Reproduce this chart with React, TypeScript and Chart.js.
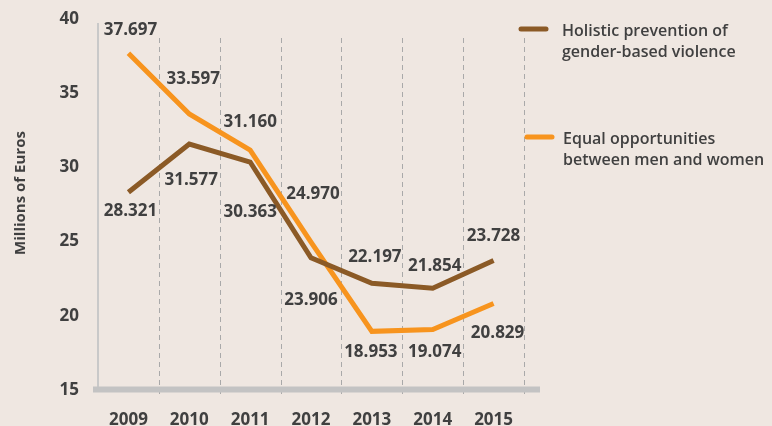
import React, { useEffect, useRef } from 'react';
import { Chart, registerables } from 'chart.js';

Chart.register(...registerables);

const years = ['2009', '2010', '2011', '2012', '2013', '2014', '2015'];
const holistic = [28.321, 31.577, 30.363, 23.906, 22.197, 21.854, 23.728];
const equalOpp = [37.697, 33.597, 31.16, 24.97, 18.953, 19.074, 20.829];
const yTicks = [15, 20, 25, 30, 35, 40];
const legendHolistic = ['Holistic prevention of', 'gender-based violence'];
const legendEqual = ['Equal opportunities', 'between men and women'];
const axisTitle = 'Millions of Euros';

// label offsets (dx, dy) relative to each point
const holisticLabelOffsets = [[2, 19], [2, 36], [0, 50], [0, 42], [3, -26], [2, -22], [0, -24]];
const equalLabelOffsets = [[2, -23], [4, -35], [0, -28], [2, -48], [-1, 21], [2, 23], [4, 30]];

const BROWN = '#8B5A26';
const ORANGE = '#F7941E';
const TEXT = '#404040';
const BG = '#EFE7E1';
const FAMILY = '"Open Sans", "Noto Sans", sans-serif';

const decor = {
  id: 'decor',
  beforeDatasetsDraw(chart: any) {
    const { ctx, chartArea, scales } = chart;
    const x = scales.x;
    ctx.save();
    ctx.strokeStyle = '#c9c9c9';
    ctx.lineWidth = 2;
    ctx.beginPath();
    ctx.moveTo(chartArea.left, chartArea.top + 4);
    ctx.lineTo(chartArea.left, chartArea.bottom);
    ctx.stroke();

    const half = (x.getPixelForValue(1) - x.getPixelForValue(0)) / 2;
    ctx.setLineDash([5, 4]);
    ctx.strokeStyle = '#a9a9a9';
    ctx.lineWidth = 1;
    for (let i = 0; i < years.length; i++) {
      const px = Math.round(x.getPixelForValue(i) + half) + 0.5;
      ctx.beginPath();
      ctx.moveTo(px, chartArea.top + 19);
      ctx.lineTo(px, chartArea.bottom + 8);
      ctx.stroke();
    }
    ctx.setLineDash([]);

    ctx.strokeStyle = '#c3c3c3';
    ctx.lineWidth = 6;
    ctx.beginPath();
    ctx.moveTo(chartArea.left - 5, chartArea.bottom - 0.5);
    ctx.lineTo(chartArea.right + 16, chartArea.bottom - 0.5);
    ctx.stroke();
    ctx.restore();
  },
  afterDatasetsDraw(chart: any) {
    const { ctx } = chart;
    ctx.save();
    // data labels
    ctx.font = `bold 17px ${FAMILY}`;
    ctx.fillStyle = TEXT;
    ctx.textAlign = 'center';
    ctx.textBaseline = 'middle';
    const offsets = [holisticLabelOffsets, equalLabelOffsets];
    chart.data.datasets.forEach((ds: any, di: number) => {
      const meta = chart.getDatasetMeta(di);
      meta.data.forEach((pt: any, j: number) => {
        const [dx, dy] = offsets[di][j];
        ctx.fillText(Number(ds.data[j]).toFixed(3), pt.x + dx, pt.y + dy);
      });
    });

    // legend
    const legends = [
      { lines: legendHolistic, color: BROWN, x0: 519, y0: 29, tx: 562, ty: 36 },
      { lines: legendEqual, color: ORANGE, x0: 525, y0: 137, tx: 563, ty: 144 },
    ];
    legends.forEach((l) => {
      ctx.strokeStyle = l.color;
      ctx.lineWidth = 5;
      ctx.lineCap = 'round';
      ctx.beginPath();
      ctx.moveTo(l.x0 + 2, l.y0);
      ctx.lineTo(l.x0 + 27, l.y0);
      ctx.stroke();
      ctx.font = `600 16px ${FAMILY}`;
      ctx.fillStyle = TEXT;
      ctx.textAlign = 'left';
      ctx.textBaseline = 'alphabetic';
      l.lines.forEach((t, k) => ctx.fillText(t, l.tx, l.ty + k * 21));
    });

    // y title
    ctx.translate(21, 193);
    ctx.rotate(-Math.PI / 2);
    ctx.font = `bold 15px ${FAMILY}`;
    ctx.fillStyle = TEXT;
    ctx.textAlign = 'center';
    ctx.textBaseline = 'middle';
    ctx.fillText(axisTitle, 0, 0);
    ctx.restore();
  },
};

export default function App() {
  const ref = useRef<HTMLCanvasElement | null>(null);
  useEffect(() => {
    document.body.style.margin = '0';
    document.body.style.background = BG;
    const canvas = ref.current;
    if (!canvas) return;
    const chart = new Chart(canvas, {
      type: 'line',
      data: {
        labels: years,
        datasets: [
          {
            label: legendHolistic.join(' '),
            data: holistic,
            borderColor: BROWN,
            backgroundColor: BROWN,
            borderWidth: 5,
            pointRadius: 0,
            tension: 0,
            fill: false,
          },
          {
            label: legendEqual.join(' '),
            data: equalOpp,
            borderColor: ORANGE,
            backgroundColor: ORANGE,
            borderWidth: 5,
            pointRadius: 0,
            tension: 0,
            fill: false,
          },
        ],
      },
      options: {
        animation: false,
        responsive: false,
        maintainAspectRatio: false,
        layout: { padding: { top: 19, right: 248, left: 0, bottom: 0 } },
        plugins: { legend: { display: false }, tooltip: { enabled: false }, title: { display: false } },
        scales: {
          x: {
            type: 'category',
            offset: true,
            grid: { display: false, drawTicks: false },
            border: { display: false },
            ticks: { font: { family: FAMILY, size: 17, weight: 'bold' }, color: TEXT, padding: 20, maxRotation: 0 },
            afterFit: (s: any) => { s.height = 36; s.paddingLeft = 0; s.paddingRight = 0; },
          },
          y: {
            min: 15,
            max: 40,
            grid: { display: false, drawTicks: false },
            border: { display: false },
            afterBuildTicks: (s: any) => { s.ticks = yTicks.map((v) => ({ value: v })); },
            ticks: { font: { family: FAMILY, size: 17, weight: 'bold' }, color: TEXT, padding: 19 },
            afterFit: (s: any) => { s.width = 98; s.paddingTop = 0; s.paddingBottom = 0; },
          },
        },
      } as any,
      plugins: [decor],
    });
    return () => chart.destroy();
  }, []);
  return (
    <div style={{ position: 'fixed', left: 0, top: 0, width: 772, height: 426, background: BG }}>
      <canvas ref={ref} width={772} height={426} style={{ width: 772, height: 426, display: 'block' }} />
    </div>
  );
}
